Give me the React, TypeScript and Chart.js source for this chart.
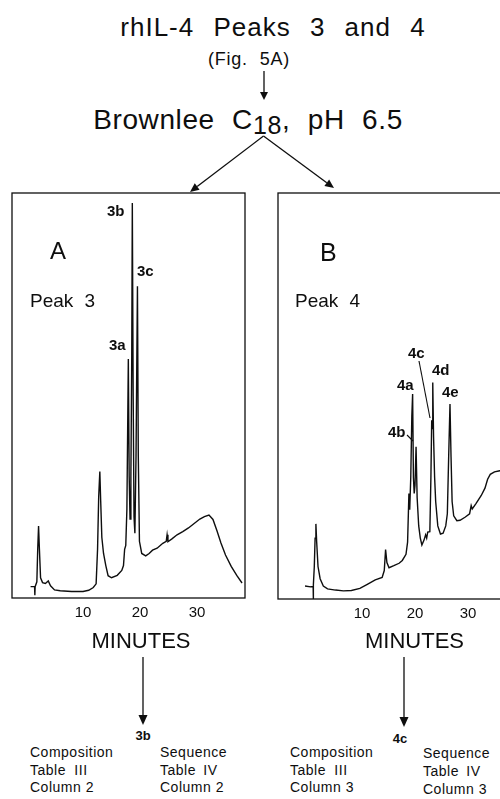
import React, { useEffect, useRef } from "react";
import { Chart, registerables } from "chart.js";

Chart.register(...registerables);

// ---- Data ----
// Panel A (Peak 3): retention time (minutes) and detector signal (% of panel height)
const peak3Minutes = [
  0.8, 1.5, 1.55, 1.6, 1.9, 2.05, 2.2, 2.35, 2.55, 2.9, 3.4, 3.9, 4.3, 5.0, 6.0, 8.0, 10.0, 11.0, 11.8,
  12.3, 12.55, 12.75, 12.95, 13.1, 13.3, 13.6, 14.0, 14.4, 15.0, 16.0, 16.8, 17.1, 17.3, 17.5, 17.7,
  17.95, 18.1, 18.25, 18.4, 18.55, 18.65, 18.8, 18.95, 19.1, 19.3, 19.55, 19.7, 19.9, 20.3, 21.0, 21.6,
  22.2, 23.0, 24.0, 24.6, 24.75, 24.9, 25.6, 26.5, 27.5, 28.5, 29.5, 30.5, 31.3, 32.1, 32.8, 33.5, 34.2,
  35.0, 36.0, 37.0, 37.9,
];
const peak3Signal = [
  2.8, 2.8, 0.7, 2.8, 4, 12, 17.8, 12, 5, 3.8, 3.6, 4.2, 3.0, 2.0, 1.8, 1.6, 1.6, 1.9, 2.6,
  3.5, 12, 25, 31.2, 24, 15, 11, 8, 5.5, 5.0, 5.6, 6.8, 8, 12, 13, 22,
  59, 30, 19.5, 30, 60, 97.5, 50, 20, 16, 35, 77, 35, 14, 11, 10.4, 11,
  11.8, 12.3, 13.5, 14, 15.6, 13.9, 14.6, 15.6, 16.4, 17.3, 18.4, 19.5, 20.1, 20.5, 19.4, 16.6, 13.6,
  10.6, 7.8, 5.5, 3.7,
];

// Panel B (Peak 4)
const peak4Minutes = [
  -0.75, 0.3, 0.78, 0.81, 0.84, 1.0, 1.15, 1.3, 1.45, 1.7, 2.1, 2.7, 3.5, 5.0, 6.5, 8.0, 9.6, 11.0,
  12.5, 13.8, 14.2, 14.45, 14.7, 15.1, 16.0, 17.0, 17.6, 18.3, 18.6, 18.85, 19.0, 19.2, 19.4, 19.55,
  19.7, 19.85, 20.0, 20.2, 20.4, 20.7, 21.0, 21.3, 21.7, 22.0, 22.2, 22.4, 22.8, 23.0, 23.15, 23.25,
  23.35, 23.5, 23.7, 23.9, 24.3, 24.8, 25.3, 25.8, 26.1, 26.35, 26.6, 26.8, 27.0, 27.3, 27.9, 28.5,
  29.5, 30.3, 30.6, 30.8, 31.5, 32.5, 33.2, 33.7, 34.2, 35.0, 36.0, 37.0,
];
const peak4Signal = [
  3.2, 3.0, 3.0, 0, 3.5, 8, 15, 18.5, 14, 8, 5, 3.2, 2.5, 2.2, 2.0, 2.1, 2.6, 3.6,
  4.7, 5.3, 7, 12.2, 9, 7.7, 8.2, 8.8, 9.5, 11, 14, 26, 22, 30, 45, 50.5,
  30, 26, 28, 37.5, 25, 18, 15, 13.3, 14.5, 15.8, 15, 16.5, 16.6, 30, 44, 42,
  53.3, 40, 30, 24, 18, 16, 16.2, 18, 21, 35, 48, 35, 24, 20.5, 19.3, 19.4,
  20.2, 21, 23, 22.2, 23.5, 25.5, 27.3, 29.5, 30.7, 31.3, 31.6, 31.8,
];

const tickMinutes = [10, 20, 30];

const FONT = '"Liberation Sans", Arial, Helvetica, sans-serif';
const INK = "#0e0e0e";

const boxPlugin = {
  id: "panelBox",
  afterDatasetsDraw(chart: any) {
    const { ctx, chartArea } = chart;
    ctx.save();
    ctx.strokeStyle = INK;
    ctx.lineWidth = 1.3;
    ctx.strokeRect(chartArea.left, chartArea.top, chartArea.right - chartArea.left, chartArea.bottom - chartArea.top);
    ctx.restore();
  },
};

function Panel(props: {
  left: number; top: number; width: number; height: number;
  pad: { left: number; right: number; top: number; bottom: number };
  axisH: number; min: number; max: number; minutes: number[]; signal: number[];
}) {
  const ref = useRef<HTMLCanvasElement>(null);
  useEffect(() => {
    const chart = new Chart(ref.current as HTMLCanvasElement, {
      type: "scatter",
      data: {
        datasets: [
          {
            data: props.minutes.map((m, i) => ({ x: m, y: props.signal[i] })),
            showLine: true,
            borderColor: INK,
            borderWidth: 1.4,
            pointRadius: 0,
            tension: 0,
          } as any,
        ],
      },
      options: {
        responsive: false,
        animation: false,
        devicePixelRatio: 1,
        layout: { padding: props.pad },
        plugins: { legend: { display: false }, tooltip: { enabled: false } },
        scales: {
          x: {
            type: "linear",
            min: props.min,
            max: props.max,
            afterFit: (s: any) => { s.height = props.axisH; },
            afterBuildTicks: (s: any) => { s.ticks = tickMinutes.map((v) => ({ value: v })); },
            grid: { display: false, drawTicks: false },
            border: { display: false },
            ticks: { color: INK, font: { family: FONT, size: 15 }, padding: 6, maxRotation: 0, autoSkip: false },
          },
          y: { display: false, min: 0, max: 100 },
        },
      } as any,
      plugins: [boxPlugin],
    });
    return () => chart.destroy();
  }, []);
  return (
    <canvas
      ref={ref}
      width={props.width}
      height={props.height}
      style={{ position: "absolute", left: props.left, top: props.top, width: props.width, height: props.height }}
    />
  );
}

function Txt(p: { x: number; y: number; size: number; mid?: boolean; bold?: boolean; ws?: number; ls?: number; children: any }) {
  return (
    <div
      style={{
        position: "absolute",
        left: p.x,
        top: p.y - p.size * 0.8465,
        fontSize: p.size,
        lineHeight: `${p.size}px`,
        whiteSpace: "pre",
        fontWeight: p.bold ? "bold" : "normal",
        wordSpacing: p.ws || 0,
        letterSpacing: p.ls || 0,
        transform: p.mid ? "translateX(-50%)" : undefined,
      }}
    >
      {p.children}
    </div>
  );
}

function Arrow(p: { x1: number; y1: number; x2: number; y2: number; head?: number; w?: number }) {
  const head = p.head ?? 9;
  const w = p.w ?? 8;
  const dx = p.x2 - p.x1, dy = p.y2 - p.y1;
  const L = Math.hypot(dx, dy);
  const ux = dx / L, uy = dy / L;
  const bx = p.x2 - ux * head, by = p.y2 - uy * head;
  const px = -uy, py = ux;
  return (
    <g>
      <line x1={p.x1} y1={p.y1} x2={bx} y2={by} stroke={INK} strokeWidth={1.3} />
      <polygon
        points={`${p.x2},${p.y2} ${bx + (px * w) / 2},${by + (py * w) / 2} ${bx - (px * w) / 2},${by - (py * w) / 2}`}
        fill={INK}
      />
    </g>
  );
}

export default function App() {
  return (
    <div
      style={{
        position: "absolute", left: 0, top: 0, width: 500, height: 799, overflow: "hidden",
        background: "#fff", fontFamily: FONT, color: INK,
      }}
    >
      <Panel left={0} top={180} width={250} height={460}
        pad={{ left: 12, right: 5, top: 13, bottom: 0 }} axisH={42}
        min={-2.46} max={38.42} minutes={peak3Minutes} signal={peak3Signal} />
      <Panel left={250} top={180} width={270} height={460}
        pad={{ left: 28, right: 15, top: 13, bottom: 0 }} axisH={41}
        min={-5.85} max={36.98} minutes={peak4Minutes} signal={peak4Signal} />

      <Txt x={273} y={36} size={26} mid ws={11} ls={1}>rhIL-4 Peaks 3 and 4</Txt>
      <Txt x={249} y={65} size={18} mid ws={6} ls={0.8}>(Fig. 5A)</Txt>
      <Txt x={248} y={130} size={28} mid ws={9} ls={0.6}>
        Brownlee C<span style={{ position: "relative", top: 5, fontSize: 25 }}>18</span>, pH 6.5
      </Txt>

      <Txt x={50} y={259} size={24}>A</Txt>
      <Txt x={30} y={307} size={19} ws={6}>Peak 3</Txt>
      <Txt x={107} y={216} size={15} bold>3b</Txt>
      <Txt x={137} y={276} size={15} bold>3c</Txt>
      <Txt x={109} y={350} size={15} bold>3a</Txt>

      <Txt x={320} y={261} size={25}>B</Txt>
      <Txt x={295} y={307} size={19} ws={6}>Peak 4</Txt>
      <Txt x={408} y={358} size={15} bold>4c</Txt>
      <Txt x={432} y={375} size={15} bold>4d</Txt>
      <Txt x={397} y={390} size={15} bold>4a</Txt>
      <Txt x={442} y={397} size={15} bold>4e</Txt>
      <Txt x={388} y={437} size={15} bold>4b</Txt>

      <Txt x={141} y={649} size={22} mid>MINUTES</Txt>
      <Txt x={414.5} y={649} size={22} mid>MINUTES</Txt>

      <Txt x={143} y={740} size={13} mid bold>3b</Txt>
      <Txt x={400} y={743} size={13} mid bold>4c</Txt>

      <Txt x={30} y={757} size={14} ls={0.5}>Composition</Txt>
      <Txt x={30} y={775} size={14} ls={0.5} ws={4}>Table III</Txt>
      <Txt x={30} y={792} size={14} ls={0.5}>Column 2</Txt>
      <Txt x={160} y={757} size={14} ls={0.5}>Sequence</Txt>
      <Txt x={160} y={775} size={14} ls={0.5} ws={3}>Table IV</Txt>
      <Txt x={160} y={792} size={14} ls={0.5}>Column 2</Txt>

      <Txt x={290} y={757} size={14} ls={0.5}>Composition</Txt>
      <Txt x={290} y={775} size={14} ls={0.5} ws={4}>Table III</Txt>
      <Txt x={290} y={792} size={14} ls={0.5}>Column 3</Txt>
      <Txt x={423} y={758} size={14} ls={0.5}>Sequence</Txt>
      <Txt x={423} y={776} size={14} ls={0.5} ws={3}>Table IV</Txt>
      <Txt x={423} y={794} size={14} ls={0.5}>Column 3</Txt>

      <svg width={500} height={799} style={{ position: "absolute", left: 0, top: 0, pointerEvents: "none" }}>
        <Arrow x1={264} y1={71} x2={264} y2={100} head={8} w={8} />
        <Arrow x1={263.5} y1={136} x2={190} y2={192} head={9} w={8} />
        <Arrow x1={263.5} y1={136} x2={334} y2={188} head={9} w={8} />
        <line x1={419} y1={361} x2={430} y2={418} stroke={INK} strokeWidth={1.1} />
        <line x1={407} y1={435} x2={413} y2={441} stroke={INK} strokeWidth={1.1} />
        <Arrow x1={143} y1={657} x2={143} y2={725} head={10} w={9} />
        <Arrow x1={404} y1={657} x2={404} y2={727} head={10} w={9} />
      </svg>
    </div>
  );
}
